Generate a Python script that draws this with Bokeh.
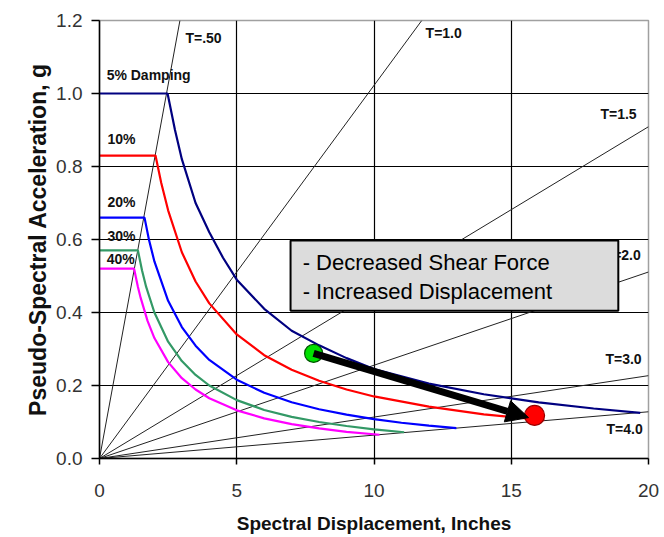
from bokeh.plotting import figure
from bokeh.models import Range1d, FixedTicker, Arrow, NormalHead, ColumnDataSource, PrintfTickFormatter
from bokeh.core.properties import value
from bokeh.embed import file_html
from bokeh.resources import INLINE

# ---- data ----
sd_5 = [0, 2.48, 2.75, 3.0, 3.5, 4.0, 4.5, 5.0, 6.0, 7.0, 8.0, 9.0, 10.0, 12.0, 14.0, 16.0, 18.0, 19.7]
sa_5 = [1.0, 1.0, 0.90, 0.82, 0.70, 0.62, 0.55, 0.49, 0.41, 0.35, 0.31, 0.275, 0.245, 0.205, 0.176, 0.154, 0.137, 0.125]

sd_10 = [0, 2.04, 2.25, 2.5, 3.0, 3.5, 4.0, 5.0, 6.0, 7.0, 8.0, 9.0, 10.0, 12.0, 14.0, 16.2]
sa_10 = [0.83, 0.83, 0.755, 0.68, 0.565, 0.485, 0.425, 0.34, 0.283, 0.243, 0.213, 0.189, 0.17, 0.142, 0.121, 0.105]

sd_20 = [0, 1.64, 1.8, 2.0, 2.5, 3.0, 3.5, 4.0, 5.0, 6.0, 7.0, 8.0, 9.0, 10.0, 11.0, 12.0, 13.0]
sa_20 = [0.66, 0.66, 0.60, 0.54, 0.432, 0.36, 0.309, 0.27, 0.216, 0.18, 0.154, 0.135, 0.12, 0.108, 0.098, 0.09, 0.083]

sd_30 = [0, 1.4, 1.55, 1.7, 2.0, 2.5, 3.0, 3.5, 4.0, 5.0, 6.0, 7.0, 8.0, 9.0, 10.0, 11.1]
sa_30 = [0.57, 0.57, 0.515, 0.47, 0.40, 0.32, 0.267, 0.229, 0.20, 0.16, 0.133, 0.114, 0.10, 0.089, 0.08, 0.072]

sd_40 = [0, 1.26, 1.4, 1.5, 1.75, 2.0, 2.5, 3.0, 3.5, 4.0, 5.0, 6.0, 7.0, 8.0, 9.0, 10.2]
sa_40 = [0.52, 0.52, 0.47, 0.44, 0.377, 0.33, 0.264, 0.22, 0.189, 0.165, 0.132, 0.11, 0.094, 0.0825, 0.073, 0.065]

damping_labels = ["5% Damping", "10%", "20%", "30%", "40%"]
damping_colors = ["#000080", "#ff0000", "#0000ff", "#339966", "#ff00ff"]

period_labels = ["T=.50", "T=1.0", "T=1.5", "T=2.0", "T=3.0", "T=4.0"]
period_sd_end = [2.93, 11.74, 20.0, 20.0, 20.0, 20.0]
period_sa_end = [1.2, 1.2, 0.909, 0.511, 0.227, 0.128]

before_pt = (7.8, 0.288)
after_pt = (15.85, 0.118)
arrow_tip = (15.63, 0.112)

note_lines = ["- Decreased Shear Force", "- Increased Displacement"]

x_ticks = [0, 5, 10, 15, 20]
y_ticks = [0.0, 0.2, 0.4, 0.6, 0.8, 1.0, 1.2]

# ---- placement of labels (screen styling) ----
damping_label_x = [0.26, 0.29, 0.29, 0.29, 0.26]
damping_label_y = [1.038, 0.863, 0.688, 0.595, 0.534]
period_label_x = [3.13, 11.88, 18.25, 18.4, 18.43, 18.47]
period_label_y = [1.137, 1.151, 0.929, 0.545, 0.258, 0.068]

FONT = "Liberation Sans"

p = figure(width=664, height=537, output_backend="svg", toolbar_location=None,
           x_range=Range1d(0, 20), y_range=Range1d(0, 1.2),
           min_border_left=99, min_border_right=16, min_border_top=20, min_border_bottom=79)
p.background_fill_color = "white"
p.border_fill_color = "white"
p.outline_line_color = "#a0a0a0"
p.outline_line_width = 1.5

# grid
p.xgrid.ticker = FixedTicker(ticks=x_ticks[1:-1])
p.ygrid.ticker = FixedTicker(ticks=y_ticks[1:-1])
for g in (p.xgrid, p.ygrid):
    g.grid_line_color = "black"
    g.grid_line_width = 1.2

# axes
p.xaxis.ticker = FixedTicker(ticks=x_ticks)
p.yaxis.ticker = FixedTicker(ticks=y_ticks)
p.yaxis.formatter = PrintfTickFormatter(format="%.1f")
for ax in (p.xaxis, p.yaxis):
    ax.axis_line_color = "black"
    ax.axis_line_width = 1.5
    ax.major_tick_line_color = "black"
    ax.major_tick_line_width = 1.5
    ax.major_tick_in = 0
    ax.minor_tick_line_color = None
    ax.major_label_text_font = FONT
    ax.major_label_text_font_size = "19px"
    ax.major_label_text_color = "#333333"
    ax.axis_label_text_font = FONT
    ax.axis_label_text_font_style = "bold"
    ax.axis_label_text_color = "#111111"
p.xaxis.major_tick_out = 6
p.yaxis.major_tick_out = 8
p.xaxis.major_label_standoff = 19
p.yaxis.major_label_standoff = 9
p.xaxis.axis_label = "Spectral Displacement, Inches"
p.yaxis.axis_label = "Pseudo-Spectral Acceleration, g"
p.xaxis.axis_label_text_font_size = "19px"
p.yaxis.axis_label_text_font_size = "23px"
p.xaxis.axis_label_standoff = 13
p.yaxis.axis_label_standoff = 2

# period lines
per_src = ColumnDataSource(dict(x0=[0] * len(period_labels), y0=[0] * len(period_labels),
                                x1=period_sd_end, y1=period_sa_end))
p.segment("x0", "y0", "x1", "y1", source=per_src, line_color="#222222", line_width=1)
p.text(x=period_label_x, y=period_label_y, text=period_labels,
       text_font=value(FONT), text_font_style="bold", text_font_size="14px",
       text_color="#111111", text_align="left", text_baseline="alphabetic", y_offset=-5)

# note box (covers the lines behind it)
p.quad(left=[6.96], right=[18.9], bottom=[0.405], top=[0.597],
       fill_color="#dcdcdc", line_color="black", line_width=2)
p.text(x=[7.4, 7.4], y=[0.517, 0.4375], text=note_lines,
       text_font=value(FONT), text_font_size="22px", text_color="black",
       text_align="left", text_baseline="alphabetic", y_offset=-7)

# spectra
curves = [(sd_5, sa_5), (sd_10, sa_10), (sd_20, sa_20), (sd_30, sa_30), (sd_40, sa_40)]
for (xs, ys), c in zip(curves, damping_colors):
    p.line(xs, ys, line_color=c, line_width=2.2)

p.text(x=damping_label_x, y=damping_label_y, text=damping_labels,
       text_font=value(FONT), text_font_style="bold", text_font_size="14px",
       text_color="#111111", text_align="left", text_baseline="alphabetic", y_offset=-5)

# points
p.scatter([before_pt[0]], [before_pt[1]], size=18, fill_color="#00e000", line_color="#005500", line_width=1.2)
p.scatter([after_pt[0]], [after_pt[1]], size=20, fill_color="#ff0000", line_color="#990000", line_width=1.2)

p.add_layout(Arrow(end=NormalHead(size=22, fill_color="black", line_color="black"),
                   x_start=before_pt[0], y_start=before_pt[1],
                   x_end=arrow_tip[0], y_end=arrow_tip[1],
                   line_color="black", line_width=7))

open("out.html", "w").write(file_html(p, INLINE))
